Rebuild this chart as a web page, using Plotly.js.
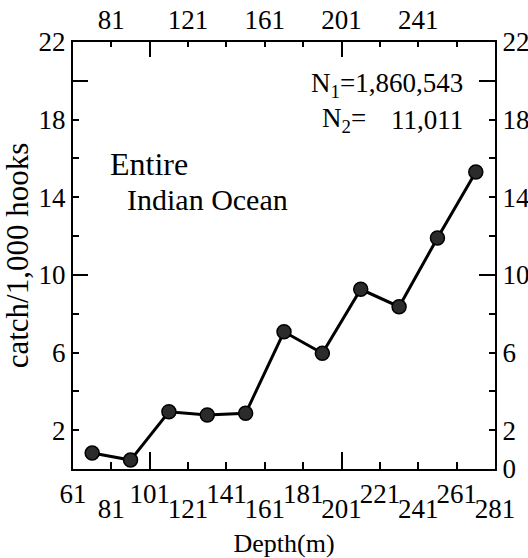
<!DOCTYPE html>
<html>
<head>
<meta charset="utf-8">
<script src="https://cdn.plot.ly/plotly-3.0.1.min.js"></script>
<style>html,body{margin:0;padding:0;background:#fff;}#chart{width:528px;height:558px;}</style>
</head>
<body>
<div id="chart"></div>
<script>
// Depth bin midpoints (m) and catch per 1,000 hooks
const depth = [71, 91, 111, 131, 151, 171, 191, 211, 231, 251, 271];
const catchRate = [0.82, 0.46, 2.95, 2.78, 2.87, 7.07, 5.96, 9.26, 8.36, 11.9, 15.3];

// Axis ticks and labels
const xTicks = [61, 81, 101, 121, 141, 161, 181, 201, 221, 241, 261, 281];
const xLongTicks = [101, 201];
const xBottomRow1 = [61, 101, 141, 181, 221, 261];
const xBottomRow2 = [81, 121, 161, 201, 241, 281];
const xTopLabels = [81, 121, 161, 201, 241];
const yTicks = [0, 2, 4, 6, 8, 10, 12, 14, 16, 18, 20, 22];
const yLongTicks = [10, 20];
const yLeftLabels = [2, 6, 10, 14, 18, 22];
const yRightLabels = [0, 2, 6, 10, 14, 18, 22];
const xRange = [61, 281];
const yRange = [0, 22];

const FONT = "Liberation Serif, Times New Roman, serif";
const tickFont = {family: FONT, size: 27, color: '#000'};

const labelOnly = (vals, shown) => vals.map(v => shown.includes(v) ? String(v) : '');

const trace = {
  x: depth, y: catchRate, type: 'scatter', mode: 'lines+markers',
  line: {color: '#000', width: 3},
  marker: {size: 14, color: '#2b2b2b', line: {color: '#000', width: 1.5}},
  xaxis: 'x', yaxis: 'y', hoverinfo: 'skip', showlegend: false
};
// invisible carriers so that the extra (overlaying) axes are drawn
const carrier = (xa, ya) => ({x: depth, y: catchRate, type: 'scatter', mode: 'none',
  xaxis: xa, yaxis: ya, hoverinfo: 'skip', showlegend: false});

const baseX = {range: xRange, showgrid: false, zeroline: false, fixedrange: true};
const baseY = {range: yRange, showgrid: false, zeroline: false, fixedrange: true};

const annFont = {family: FONT, size: 27, color: '#000'};

const layout = {
  width: 528, height: 558,
  margin: {l: 73, r: 33, t: 42, b: 89},
  paper_bgcolor: '#fff', plot_bgcolor: '#fff',
  font: {family: FONT, color: '#000'},
  showlegend: false,
  xaxis: Object.assign({}, baseX, {
    side: 'bottom', anchor: 'y',
    tickmode: 'array', tickvals: xTicks, ticktext: labelOnly(xTicks, xBottomRow1),
    ticks: 'inside', ticklen: 7, tickwidth: 2, tickcolor: '#000',
    showline: true, linewidth: 2, linecolor: '#000',
    tickfont: tickFont,
    title: {text: 'Depth(m)', font: {family: FONT, size: 26, color: '#000'}, standoff: 25}
  }),
  xaxis2: Object.assign({}, baseX, {
    overlaying: 'x', side: 'bottom', anchor: 'y',
    tickmode: 'array', tickvals: xLongTicks,
    ticks: 'inside', ticklen: 17, tickwidth: 2, tickcolor: '#000',
    showticklabels: false, showline: false
  }),
  xaxis3: Object.assign({}, baseX, {
    overlaying: 'x', side: 'bottom', anchor: 'y',
    tickmode: 'array', tickvals: xBottomRow2, ticktext: xBottomRow2.map(String),
    ticks: '', ticklabelstandoff: 21, tickfont: tickFont, showline: false
  }),
  xaxis4: Object.assign({}, baseX, {
    overlaying: 'x', side: 'top', anchor: 'y',
    tickmode: 'array', tickvals: xTicks, ticktext: labelOnly(xTicks, xTopLabels),
    ticks: 'inside', ticklen: 5, tickwidth: 2, tickcolor: '#000',
    showline: true, linewidth: 2, linecolor: '#000', tickfont: tickFont
  }),
  xaxis5: Object.assign({}, baseX, {
    overlaying: 'x', side: 'top', anchor: 'y',
    tickmode: 'array', tickvals: xLongTicks,
    ticks: 'inside', ticklen: 15, tickwidth: 2, tickcolor: '#000',
    showticklabels: false, showline: false
  }),
  yaxis: Object.assign({}, baseY, {
    side: 'left', anchor: 'x',
    tickmode: 'array', tickvals: yTicks, ticktext: labelOnly(yTicks, yLeftLabels),
    ticks: 'inside', ticklen: 6, tickwidth: 2, tickcolor: '#000',
    showline: true, linewidth: 2, linecolor: '#000', tickfont: tickFont,
    title: {text: 'catch/1,000 hooks', font: {family: FONT, size: 31, color: '#000'}, standoff: 6}
  }),
  yaxis2: Object.assign({}, baseY, {
    overlaying: 'y', side: 'left', anchor: 'x',
    tickmode: 'array', tickvals: yLongTicks,
    ticks: 'inside', ticklen: 15, tickwidth: 2, tickcolor: '#000',
    showticklabels: false, showline: false
  }),
  yaxis3: Object.assign({}, baseY, {
    overlaying: 'y', side: 'right', anchor: 'x',
    tickmode: 'array', tickvals: yTicks, ticktext: labelOnly(yTicks, yRightLabels),
    ticks: 'inside', ticklen: 6, tickwidth: 2, tickcolor: '#000',
    showline: true, linewidth: 2, linecolor: '#000', tickfont: tickFont
  }),
  yaxis4: Object.assign({}, baseY, {
    overlaying: 'y', side: 'right', anchor: 'x',
    tickmode: 'array', tickvals: yLongTicks,
    ticks: 'inside', ticklen: 16, tickwidth: 2, tickcolor: '#000',
    showticklabels: false, showline: false
  }),
  annotations: [
    {text: 'N<sub>1</sub>=1,860,543', xref: 'paper', yref: 'paper', x: 0.929, y: 0.90, xanchor: 'right', yanchor: 'middle', showarrow: false, font: annFont},
    {text: 'N<sub>2</sub>=', xref: 'paper', yref: 'paper', x: 0.585, y: 0.817, xanchor: 'left', yanchor: 'middle', showarrow: false, font: annFont},
    {text: '11,011', xref: 'paper', yref: 'paper', x: 0.929, y: 0.817, xanchor: 'right', yanchor: 'middle', showarrow: false, font: annFont},
    {text: 'Entire', xref: 'paper', yref: 'paper', x: 0.083, y: 0.714, xanchor: 'left', yanchor: 'middle', showarrow: false, font: {family: FONT, size: 32, color: '#000'}},
    {text: 'Indian Ocean', xref: 'paper', yref: 'paper', x: 0.123, y: 0.630, xanchor: 'left', yanchor: 'middle', showarrow: false, font: {family: FONT, size: 30, color: '#000'}}
  ]
};

const data = [trace, carrier('x2', 'y2'), carrier('x3', 'y3'), carrier('x4', 'y4'), carrier('x5', 'y')];
Plotly.newPlot('chart', data, layout, {staticPlot: true, displayModeBar: false});
</script>
</body>
</html>
